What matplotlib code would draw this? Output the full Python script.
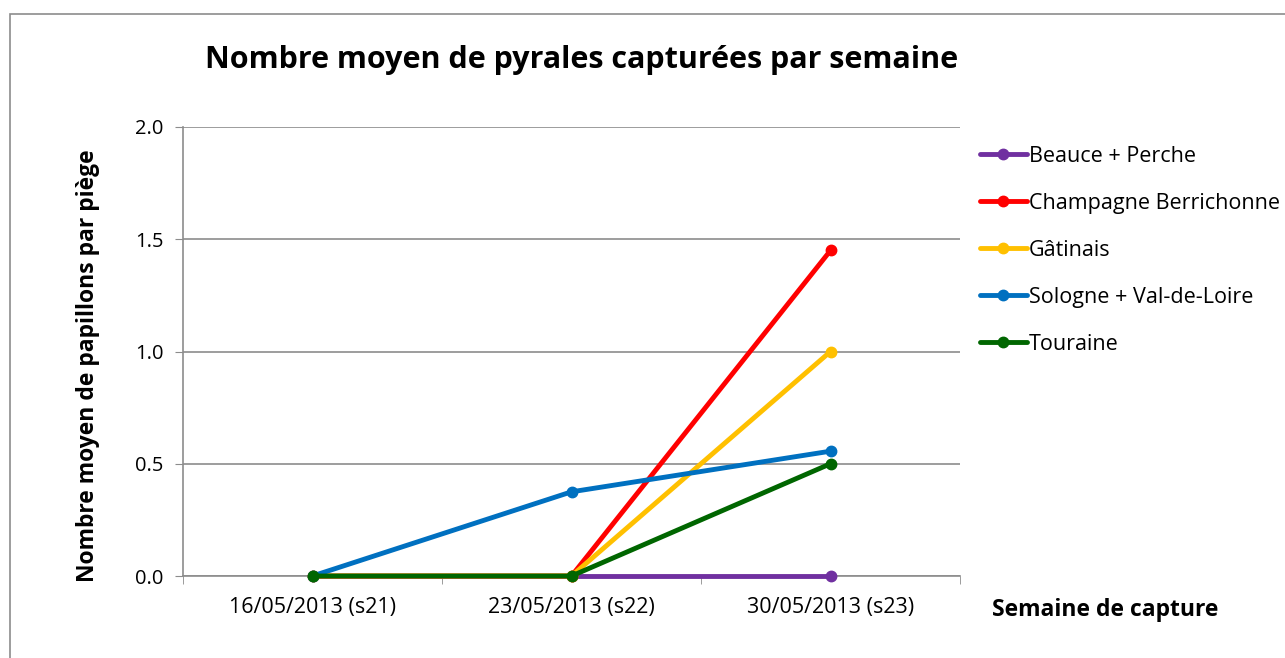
import matplotlib.pyplot as plt
from matplotlib.patches import Rectangle

# Data
WEEKS = ['16/05/2013 (s21)', '23/05/2013 (s22)', '30/05/2013 (s23)']
BEAUCE = [0.0, 0.0, 0.0]
CHAMPAGNE = [0.0, 0.0, 1.45]
GATINAIS = [0.0, 0.0, 1.0]
SOLOGNE = [0.0, 0.375, 0.556]
TOURAINE = [0.0, 0.0, 0.5]

SERIES = [
    ('Beauce + Perche', BEAUCE, '#7030A0'),
    ('Champagne Berrichonne', CHAMPAGNE, '#FF0000'),
    ('Gâtinais', GATINAIS, '#FFC000'),
    ('Sologne + Val-de-Loire', SOLOGNE, '#0070C0'),
    ('Touraine', TOURAINE, '#006600'),
]
YTICKS = [0.0, 0.5, 1.0, 1.5, 2.0]

FONT = ['Open Sans', 'DejaVu Sans']
GRID = '#8c8c8c'

plt.rcParams['font.family'] = FONT

W, H = 1285, 658
fig = plt.figure(figsize=(W / 100, H / 100), dpi=100)

# outer chart border
fig.patches.append(Rectangle((10 / W, -0.02), 1.1, 1 - 14 / H + 0.02,
                             transform=fig.transFigure, fill=False,
                             edgecolor='#8c8c8c', linewidth=1.2))

ax = fig.add_axes([183 / W, 1 - 576 / H, (960 - 183) / W, (576 - 127) / H])
x = list(range(len(WEEKS)))
for name, vals, color in SERIES:
    ax.plot(x, vals, color=color, linewidth=3.5, marker='o', markersize=7.5,
            label=name, solid_capstyle='round', zorder=3, clip_on=False)

ax.set_xlim(-0.5, len(WEEKS) - 0.5)
ax.set_ylim(0, 2)
ax.set_yticks(YTICKS)
ax.set_yticklabels([f'{v:.1f}' for v in YTICKS], fontsize=14.5)
ax.set_xticks(x)
ax.set_xticklabels(WEEKS, fontsize=15.5)
ax.set_xticks([i - 0.5 for i in range(len(WEEKS) + 1)], minor=True)
ax.tick_params(axis='x', which='major', length=0, pad=15)
ax.tick_params(axis='x', which='minor', length=6, color=GRID, direction='out')
ax.tick_params(axis='y', length=6, color=GRID, direction='out', pad=8)
ax.yaxis.grid(True, color=GRID, linewidth=1.2)
ax.set_axisbelow(True)
for side in ['top', 'right']:
    ax.spines[side].set_visible(False)
for side in ['left', 'bottom']:
    ax.spines[side].set_color(GRID)
    ax.spines[side].set_linewidth(1.2)

fig.text(582 / W, 1 - 60 / H, 'Nombre moyen de pyrales capturées par semaine',
         ha='center', va='center', fontsize=22, fontweight='bold')
fig.text(88 / W, 1 - 366 / H, 'Nombre moyen de papillons par piège',
         ha='center', va='center', rotation=90, fontsize=16.5, fontweight='bold')
fig.text(1105 / W, 1 - 610 / H, 'Semaine de capture',
         ha='center', va='center', fontsize=16.5, fontweight='bold')

leg = fig.legend(loc='upper left', bbox_to_anchor=(971 / W, 1 - 137 / H),
                 frameon=False, fontsize=15.5, handlelength=2.2,
                 handletextpad=0.1, labelspacing=1.21, borderaxespad=0)

fig.savefig('out.png', dpi=100)
